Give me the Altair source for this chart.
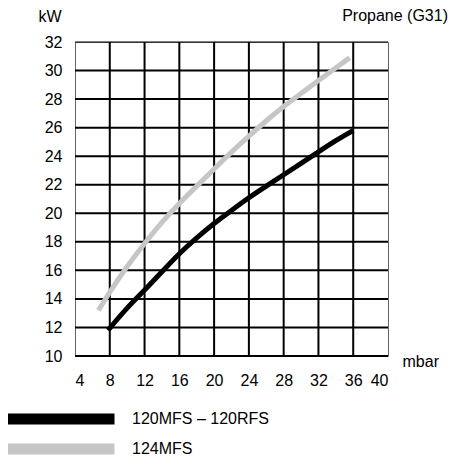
import altair as alt
import pandas as pd

# Series data (pressure in mbar -> power in kW)
black_name = "120MFS – 120RFS"
black_x = [7.8, 10, 12, 14, 16, 18, 20, 22, 24, 26, 28, 30, 32, 34, 36]
black_y = [11.8, 13.4, 14.6, 15.9, 17.2, 18.3, 19.3, 20.2, 21.1, 21.9, 22.7, 23.5, 24.3, 25.1, 25.8]

gray_name = "124MFS"
gray_x = [6.7, 8, 10, 12, 14, 16, 18, 20, 22, 24, 26, 28, 30, 32, 34, 35.6]
gray_y = [13.2, 14.5, 16.3, 17.9, 19.4, 20.7, 21.9, 23.1, 24.3, 25.4, 26.5, 27.5, 28.4, 29.3, 30.2, 30.9]

x_ticks = [4, 8, 12, 16, 20, 24, 28, 32, 36, 40]
y_ticks = [10, 12, 14, 16, 18, 20, 22, 24, 26, 28, 30, 32]
x_grid = [8, 12, 16, 20, 24, 28, 32, 36]
y_grid = [10, 12, 14, 16, 18, 20, 22, 24, 26, 28, 30]
y_top = [32]

FONT = "Liberation Sans"

df = pd.concat([
    pd.DataFrame({"p": black_x, "kw": black_y, "s": black_name, "o": range(len(black_x))}),
    pd.DataFrame({"p": gray_x, "kw": gray_y, "s": gray_name, "o": range(len(gray_x))}),
])

xs = alt.Scale(domain=[4, 40], nice=False, zero=False)
ys = alt.Scale(domain=[10, 32], nice=False, zero=False)

xa = alt.Axis(
    values=x_ticks, grid=False, domain=False, ticks=False, labelPadding=16,
    labelFont=FONT, labelFontSize=16, labelColor="black",
    title="mbar", titleFont=FONT, titleFontSize=16, titleFontWeight="normal",
    titleColor="black", titleAlign="left", titleBaseline="alphabetic",
    titleAnchor="start", titleX=327, titleY=10,
)
ya = alt.Axis(
    values=y_ticks, grid=False, domain=False, ticks=False, labelPadding=13,
    labelFont=FONT, labelFontSize=16, labelColor="black",
    title="kW", titleFont=FONT, titleFontSize=16, titleFontWeight="normal",
    titleColor="black", titleAngle=0, titleAlign="right", titleBaseline="alphabetic",
    titleX=-14, titleY=-21,
)

vgrid = alt.Chart(pd.DataFrame({"p": x_grid})).mark_rule(color="black", strokeWidth=2).encode(
    x=alt.X("p:Q", scale=xs, axis=xa)
)
hgrid = alt.Chart(pd.DataFrame({"kw": y_grid})).mark_rule(color="black", strokeWidth=2).encode(
    y=alt.Y("kw:Q", scale=ys, axis=ya)
)
htop = alt.Chart(pd.DataFrame({"kw": y_top})).mark_rule(color="black", strokeWidth=1).encode(
    y=alt.Y("kw:Q", scale=ys, axis=ya)
)

lines = alt.Chart(df).mark_line(strokeWidth=5, interpolate="basis", strokeCap="butt").encode(
    x=alt.X("p:Q", scale=xs, axis=xa),
    y=alt.Y("kw:Q", scale=ys, axis=ya),
    color=alt.Color("s:N", scale=alt.Scale(domain=[black_name, gray_name], range=["#000000", "#c6c6c6"]),
                    legend=alt.Legend(
                        title=None, orient="none", legendX=-74, legendY=367,
                        symbolType="stroke", symbolSize=11664, symbolStrokeWidth=11,
                        clipHeight=20, rowPadding=10, labelOffset=12,
                        labelFont=FONT, labelFontSize=16, labelColor="black",
                    )),
    order="o:Q",
)

chart = alt.layer(vgrid, hgrid, htop, lines).properties(
    width=313,
    height=314,
    padding={"left": 67, "top": 34, "right": 60, "bottom": 100},
    autosize=alt.AutoSizeParams(type="none"),
    title=alt.TitleParams(
        "Propane (G31)", anchor="end", orient="top", frame="group", dx=60, dy=20,
        font=FONT, fontSize=16, fontWeight="normal", color="black",
    ),
).configure_view(stroke="#666666", strokeWidth=1)

chart.save("out.html", embed_options={"renderer": "svg", "actions": False})
